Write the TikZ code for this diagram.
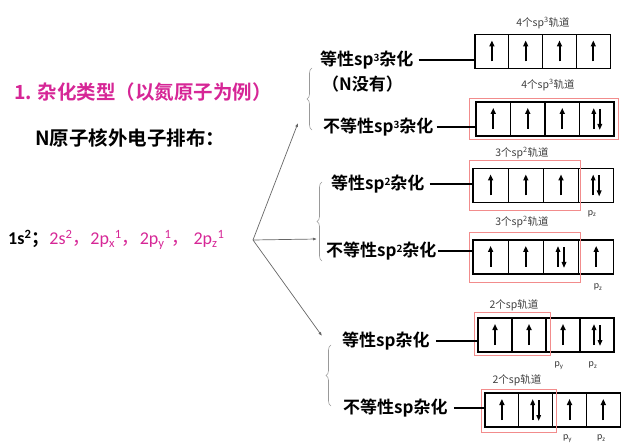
\documentclass[tikz,border=0pt]{standalone}
\usepackage{fontspec}
\setmainfont{Carlito}
\newfontfamily\cjk{Noto Sans CJK SC}[BoldFont={Noto Sans CJK SC Bold}]
\usetikzlibrary{positioning,arrows.meta,decorations.pathreplacing}
\definecolor{hotpink}{RGB}{214,38,150}
\definecolor{framered}{RGB}{242,140,140}

\newcommand\sptop[1]{\raisebox{0.45ex}{\fontsize{10}{10}\selectfont #1}}

\tikzset{
  hybrid/.style={anchor=west,inner sep=0pt,font=\cjk\bfseries\fontsize{17}{17}\selectfont},
  orbname/.style={font=\cjk\fontsize{10.5}{10.5}\selectfont,text=black!75,inner sep=1pt},
  pname/.style={font=\fontsize{10}{10}\selectfont,text=black!80,inner sep=0pt},
  cell/.style={draw,line width=1.3pt,minimum height=34pt,minimum width=34.5pt,inner sep=0pt},
  redframe/.style={draw=framered,line width=0.8pt},
  branch/.style={draw=black!60,line width=0.7pt,-{Latex[length=4pt,width=3pt]}},
  grp/.style={draw=black!40,line width=0.6pt,decorate,decoration={brace,amplitude=5pt}},
  joint/.style={line width=1.6pt},
  eup/.pic={\draw[line width=2pt,-{Triangle[length=6pt,width=5pt]}] (0,10) -- (0,-11);},
  epair/.pic={\draw[line width=1.7pt,-{Triangle[length=6pt,width=4.5pt]}] (-3,10) -- (-3,-11);
              \draw[line width=1.7pt,-{Triangle[length=6pt,width=4.5pt]}] (3,-10) -- (3,11);}
}

\begin{document}
\begin{tikzpicture}[x=1pt,y=-1pt]
\useasboundingbox (0,0) rectangle (626,446);

% left side:
\node[anchor=west,inner sep=0pt,text=hotpink,font=\cjk\bfseries\fontsize{19.5}{19.5}\selectfont] (title) at (14,92) {1. 杂化类型（以氮原子为例）};
\node[anchor=west,inner sep=0pt,font=\cjk\bfseries\fontsize{19.5}{19.5}\selectfont] (intro) at (35,138) {N原子核外电子排布：};
\node[anchor=west,inner sep=0pt,font=\fontsize{18}{18}\selectfont] (config) at (8,240)
  {\textbf{1s\textsuperscript{2}}{\cjk\bfseries ；}\textcolor{hotpink}{2s\textsuperscript{2}{\cjk ，}2p\textsubscript{x}\textsuperscript{1}{\cjk ，}2p\textsubscript{y}\textsuperscript{1}{\cjk ，} 2p\textsubscript{z}\textsuperscript{1}}};

% fork:
\coordinate (fork) at (253,240);
\coordinate (sp3end) at (298,123);
\coordinate (sp2end) at (317,239);
\coordinate (spend) at (322,336);
\draw[branch] (fork) -- (sp3end);
\draw[branch] (fork) -- (sp2end);
\draw[branch] (fork) -- (spend);

\draw[grp] (312,130) -- (312,68);
\draw[grp] (322,261) -- (322,182);
\draw[grp] (331,406) -- (331,345);

% hybrid names:
\node[hybrid] (r1lab) at (320,60) {等性sp\sptop{3}杂化};
\node[hybrid] (r1note) at (322,84) {（N没有）};
\node[hybrid] (r2lab) at (323,127) {不等性sp\sptop{3}杂化};
\node[hybrid] (r3lab) at (331,184) {等性sp\sptop{2}杂化};
\node[hybrid] (r4lab) at (326,251) {不等性sp\sptop{2}杂化};
\node[hybrid] (r5lab) at (342,341) {等性sp杂化};
\node[hybrid] (r6lab) at (343,408) {不等性sp杂化};

% orbital boxes:
\foreach \r/\x/\y/\w/\es in {1/475/51.5/33.8/{eup,eup,eup,eup},
                             2/476/119/34.5/{eup,eup,eup,epair},
                             3/473/185.5/35.2/{eup,eup,eup,epair},
                             4/473/257/35.2/{eup,eup,epair,eup},
                             5/478/335/34/{eup,eup,eup,epair},
                             6/485/410/33.8/{eup,epair,eup,eup}}{
  \foreach \e [count=\i] in \es {
    \node[cell,minimum width=\w pt] (r\r c\i) at ({\x+(\i-0.5)*\w},\y) {};
    \pic at (r\r c\i) {\e};
  }
}

% red frames:
\draw[redframe] ([shift={(-6,-3)}]r2c1.north west) rectangle ([shift={(4,3)}]r2c4.south east);
\draw[redframe] ([shift={(-3,-7)}]r3c1.north west) rectangle ([shift={(1,7)}]r3c3.south east);
\draw[redframe] ([shift={(-3,-7)}]r4c1.north west) rectangle ([shift={(1,8)}]r4c3.south east);
\draw[redframe] ([shift={(-3,-5)}]r5c1.north west) rectangle ([shift={(4,3)}]r5c2.south east);
\draw[redframe] ([shift={(-3,-3)}]r6c1.north west) rectangle ([shift={(3,5)}]r6c2.south east);

% orbital names:
\node[orbname] (r1orb) at (543,23) {4个sp\textsuperscript{3}轨道};
\node[orbname] (r2orb) at (548,85) {4个sp\textsuperscript{3}轨道};
\node[orbname] (r3orb) at (522,153) {3个sp\textsuperscript{2}轨道};
\node[orbname] (r4orb) at (522,222) {3个sp\textsuperscript{2}轨道};
\node[orbname] (r5orb) at (514,305) {2个sp轨道};
\node[orbname] (r6orb) at (517,380) {2个sp轨道};

\node[pname,below=7pt of r3c4.south,xshift=-4pt] (r3pz) {p\textsubscript{z}};
\node[pname,below=9pt of r4c4.south,xshift=2pt] (r4pz) {p\textsubscript{z}};
\node[pname,below=9pt of r5c3.south,xshift=-4pt] (r5py) {p\textsubscript{y}};
\node[pname,below=9pt of r5c4.south,xshift=-4pt] (r5pz) {p\textsubscript{z}};
\node[pname,below=7pt of r6c3.south,xshift=-2pt] (r6py) {p\textsubscript{y}};
\node[pname,below=7pt of r6c4.south,xshift=-2pt] (r6pz) {p\textsubscript{z}};

% joints:
\draw[joint] ([xshift=5pt]r1lab.east) -- (r1lab.east -| r1c1.west);
\draw[joint] ([xshift=3pt]r2lab.east) -- (r2lab.east -| r2c1.west);
\draw[joint] ([xshift=5pt]r3lab.east) -- (r3lab.east -| r3c1.west);
\draw[joint] ([xshift=1pt]r4lab.east) -- (r4lab.east -| r4c1.west);
\draw[joint] ([xshift=6pt]r5lab.east) -- (r5lab.east -| r5c1.west);
\draw[joint] ([xshift=6pt]r6lab.east) -- (r6lab.east -| r6c1.west);

\end{tikzpicture}
\end{document}
